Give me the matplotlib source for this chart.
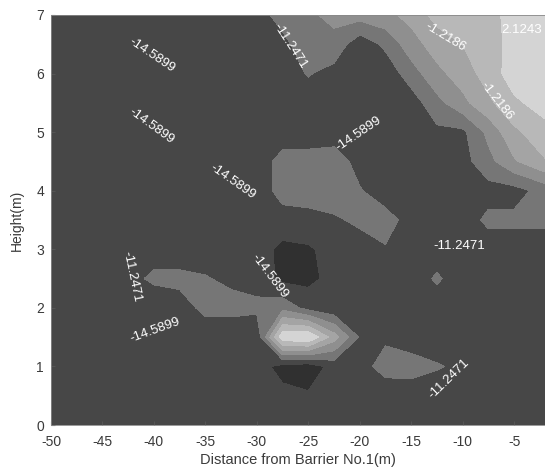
#Contour map of sound level behind barrier No.1
#grid values

import numpy as np
import matplotlib.pyplot as plt

plt.rcParams['font.family'] = ['Liberation Sans', 'DejaVu Sans']
plt.rcParams['axes.unicode_minus'] = False

#measurement grid (m)
x_nodes = [-50, -47.5, -45, -42.5, -40, -37.5, -35, -32.5, -30, -27.5,
           -25, -22.5, -20, -17.5, -15, -12.5, -10, -7.5, -5, -2]
y_nodes = [7, 6.5, 6, 5.5, 5, 4.5, 4, 3.5, 3, 2.5, 2, 1.5, 1, 0.5, 0]

#values, one row per height (top row is y=7)
z_rows = [
    [-13, -13, -13, -13, -13, -13, -13, -13, -13, -9.6, -8.5, -7.0, -6.5, -5.5, -3.5, 0.0, 1.0, 1.5, 2.8, 3.0],
    [-13, -13, -13, -13, -13, -13, -13, -13, -13, -12.5, -8.6, -9.0, -13.5, -10.5, -6.0, -3.0, -1.2, 1.0, 3.0, 3.0],
    [-13, -13, -13, -13, -13, -13, -13, -13, -13, -13, -11.0, -12.5, -14.0, -13.5, -9.5, -5.5, -3.0, 0.3, 3.8, 3.5],
    [-13, -13, -13, -13, -13, -13, -13, -13, -13, -13, -13, -13, -13, -13, -13, -9.0, -5.5, -2.0, 1.5, 3.5],
    [-13, -13, -13, -13, -13, -13, -13, -13, -13, -13, -13, -13, -13, -13, -13, -12.0, -12.0, -7.0, -2.0, 1.0],
    [-13, -13, -13, -13, -13, -13, -13, -13, -13, -10.1, -10.0, -9.5, -12.5, -13, -13, -13, -12.5, -9.0, -5.0, -1.5],
    [-13, -13, -13, -13, -13, -13, -13, -13, -13, -10.1, -9.5, -9.0, -11.0, -13, -13, -13, -13, -12.5, -12.5, -10.0],
    [-13, -13, -13, -13, -13, -13, -13, -13, -13, -12.5, -12.5, -11.8, -10.5, -10.0, -12.5, -13, -13, -10.5, -10.5, -10.5],
    [-13, -13, -13, -13, -13, -13, -13, -13, -13, -15.5, -15.0, -13.5, -13, -11.5, -12.5, -13, -13, -13, -13, -13],
    [-13, -13, -13, -12.5, -10.5, -10.5, -11.0, -12.0, -12.5, -15.5, -15.5, -13.5, -13, -13, -13, -10.8, -13, -13, -13, -13],
    [-13, -13, -13, -13, -14.0, -12.5, -10.5, -10.0, -10.5, -9.0, -12.5, -14.0, -13, -13, -13, -13, -13, -13, -13, -13],
    [-13, -13, -13, -13, -13, -13, -13, -14.0, -14.0, 4.5, 5.5, -3.0, -11.6, -12.0, -12.8, -13, -13, -13, -13, -13],
    [-13, -13, -13, -13, -13, -13, -13, -13, -13, -16.0, -16.5, -13.5, -13, -9.5, -10.0, -11.0, -11.8, -13, -13, -13],
    [-13, -13, -13, -13, -13, -13, -13, -13, -13, -13.5, -14.2, -13.0, -13, -14.0, -13, -13, -13, -13, -13, -13],
    [-13, -13, -13, -13, -13, -13, -13, -13, -13, -13, -13, -13, -13, -13, -13, -13, -13, -13, -13, -13],
]

#contour levels and the gray of each band
band_edges = [-18, -14.5899, -11.2471, -7.9043, -4.5615, -1.2186, 2.1243, 6]
band_grays = ['#303030', '#474747', '#767676', '#8f8f8f', '#a4a4a4', '#b8b8b8', '#d4d4d4']

#contour labels as printed on the map
label_vals = [-14.5899, -14.5899, -14.5899, -14.5899, -11.2471, -1.2186, 2.1243,
              -1.2186, -14.5899, -11.2471, -14.5899, -11.2471, -11.2471]
label_x = [-40.2, -40.2, -32.4, -20.1, -26.8, -11.7, -6.2, -6.7, -28.8, -42.2, -39.9, -10.3, -11.3]
label_y = [6.31, 5.10, 4.16, 4.97, 6.47, 6.62, 6.75, 5.53, 2.54, 2.53, 1.62, 3.05, 0.78]
label_rot = [-34, -36, -35, 34, -57, -31, 0, -52, -53, -78, 20, 0, 44]

fig = plt.figure(figsize=(5.45, 4.69), dpi=100)
ax = fig.add_axes([51/545, 44/469, 494/545, 410/469])

X, Y = np.meshgrid(x_nodes, y_nodes)
Z = np.array(z_rows)
ax.contourf(X, Y, Z, levels=band_edges, colors=band_grays)

for v, lx, ly, r in zip(label_vals, label_x, label_y, label_rot):
    ha = 'left' if v == 2.1243 else 'center'
    ax.text(lx, ly, '%.4f' % v, color='white', fontsize=9.5, rotation=r,
            ha=ha, va='center', rotation_mode='anchor')

ax.set_xlim(-50, -2)
ax.set_ylim(0, 7)
ax.set_xticks(range(-50, 0, 5))
ax.set_yticks(range(0, 8))
ax.tick_params(direction='in', length=3, color='#555555', labelcolor='#3a3a3a',
               labelsize=10)
ax.tick_params(axis='x', pad=7)
ax.tick_params(axis='y', pad=5)
for s in ax.spines.values():
    s.set_linewidth(0.6)
    s.set_color('#888888')

ax.set_xlabel('Distance from Barrier No.1(m)', fontsize=10.5, color='#3a3a3a', labelpad=3)
ax.set_ylabel('Height(m)', fontsize=10, color='#3a3a3a', labelpad=9)

fig.savefig('out.png', dpi=100)
